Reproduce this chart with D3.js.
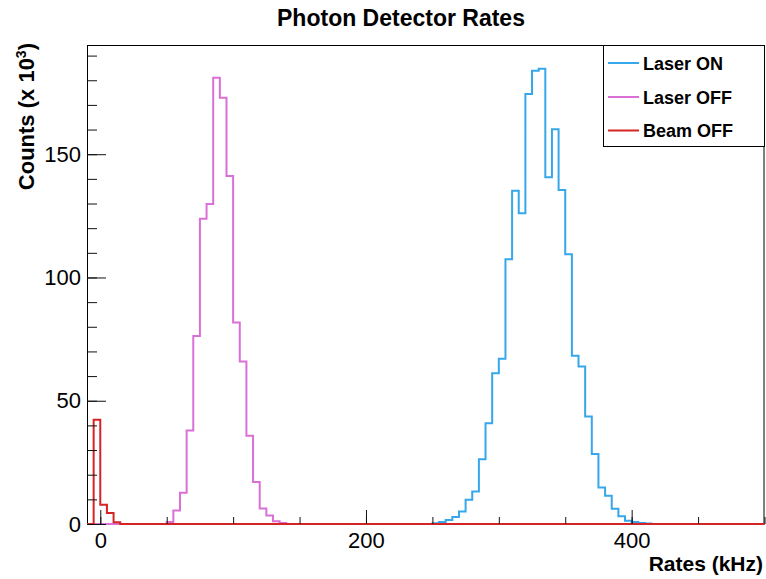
<!DOCTYPE html>
<html>
<head>
<meta charset="utf-8">
<script src="https://cdn.jsdelivr.net/npm/d3@7"></script>
<style>
  body { margin: 0; background: #fff; }
  text { font-family: "Liberation Sans", Arial, Helvetica, sans-serif; }
</style>
</head>
<body>
<div id="chart"></div>
<script>
// histogram binning (kHz)
var binWidth = 5;
var xMin = -10, xMax = 500;

// counts in thousands, listed from the first non-empty bin
var laserOnStart = 250;
var laserOnCounts = [0.3, 0.8, 1.6, 2.8, 5.1, 9.8, 13.2, 26.3, 40.9, 61.2, 67.0,
  107.4, 135.2, 126.1, 174.4, 183.9, 184.7, 140.7, 160.1, 135.5, 109.4, 68.2,
  63.9, 43.6, 28.4, 14.8, 11.5, 6.2, 3.1, 1.3, 0.8, 0.4, 0.2];

var laserOffStart = 50;
var laserOffCounts = [0.8, 5.5, 12.7, 37.9, 76.3, 123.8, 129.8, 181.0, 172.9,
  141.2, 81.7, 65.9, 35.8, 17.0, 6.3, 3.4, 1.1, 0.4];

var beamOffStart = -5;
var beamOffCounts = [42.3, 7.8, 4.5, 0.7];

var seriesNames = ["Laser ON", "Laser OFF", "Beam OFF"];
var seriesColors = ["#36a7ea", "#da70d6", "#d42424"];

var xMajorTicks = [0, 200, 400];
var yMajorTicks = [0, 50, 100, 150];

var width = 766, height = 579;
var margin = { left: 87, right: 1.5, top: 45, bottom: 55 };

var svg = d3.select("#chart")
  .append("svg")
  .attr("width", width)
  .attr("height", height);

var x = d3.scaleLinear()
  .domain([xMin, xMax])
  .range([margin.left, width - margin.right]);

var y = d3.scaleLinear()
  .domain([0, 194.3])
  .range([height - margin.bottom, margin.top]);

var plotBottom = height - margin.bottom;

// frame first, histograms get drawn over it
svg.append("rect")
  .attr("x", margin.left + 0.5)
  .attr("y", margin.top + 0.5)
  .attr("width", width - margin.right - margin.left - 1)
  .attr("height", plotBottom - margin.top)
  .attr("fill", "none")
  .attr("stroke", "#000")
  .attr("stroke-width", 1);

// build full step path: zero outside the listed bins
function stepPoints(start, counts) {
  var pts = [];
  var nBins = Math.round((xMax - xMin) / binWidth);
  for (var i = 0; i < nBins; i++) {
    var lo = xMin + i * binWidth;
    var k = Math.round((lo - start) / binWidth);
    var v = (k >= 0 && k < counts.length) ? counts[k] : 0;
    pts.push([lo, v]);
  }
  pts.push([xMax, pts[pts.length - 1][1]]);
  return pts;
}

var line = d3.line()
  .x(function (d) { return x(d[0]); })
  .y(function (d) { return y(d[1]); })
  .curve(d3.curveStepAfter);

var allSeries = [
  stepPoints(laserOnStart, laserOnCounts),
  stepPoints(laserOffStart, laserOffCounts),
  stepPoints(beamOffStart, beamOffCounts)
];

svg.append("g")
  .selectAll("path")
  .data(allSeries)
  .enter()
  .append("path")
  .attr("d", line)
  .attr("fill", "none")
  .attr("stroke", function (d, i) { return seriesColors[i]; })
  .attr("stroke-width", 2);

// axes, ROOT style: ticks point into the frame
svg.append("g")
  .attr("transform", "translate(0," + plotBottom + ")")
  .call(d3.axisBottom(x).tickValues(d3.range(0, 501, 50)).tickSize(-7).tickFormat(""));

svg.append("g")
  .attr("transform", "translate(0," + plotBottom + ")")
  .call(d3.axisBottom(x).tickValues(xMajorTicks).tickSize(-14).tickPadding(8));

svg.append("g")
  .attr("transform", "translate(" + margin.left + ",0)")
  .call(d3.axisLeft(y).tickValues(d3.range(0, 191, 10)).tickSize(-10).tickFormat(""));

svg.append("g")
  .attr("transform", "translate(" + margin.left + ",0)")
  .call(d3.axisLeft(y).tickValues(yMajorTicks).tickSize(-19).tickPadding(6));

svg.selectAll(".domain").remove();
svg.selectAll(".tick line").attr("stroke", "#111").attr("stroke-width", 1);
svg.selectAll(".tick text")
  .attr("fill", "#000")
  .style("font-size", "22px")
  .style("font-family", "'Liberation Sans', Arial, sans-serif");

// title and axis titles
svg.append("text")
  .attr("x", 401)
  .attr("y", 26)
  .attr("text-anchor", "middle")
  .style("font-size", "23px")
  .style("font-weight", "bold")
  .text("Photon Detector Rates");

svg.append("text")
  .attr("x", 763)
  .attr("y", 571)
  .attr("text-anchor", "end")
  .style("font-size", "21px")
  .style("font-weight", "bold")
  .text("Rates (kHz)");

var yTitle = svg.append("text")
  .attr("transform", "translate(33.5,43) rotate(-90)")
  .attr("text-anchor", "end")
  .style("font-size", "22px")
  .style("font-weight", "bold");
yTitle.append("tspan").text("Counts (x 10");
yTitle.append("tspan").attr("dy", -8).style("font-size", "14px").text("3");
yTitle.append("tspan").attr("dy", 8).text(")");

// legend
var legend = svg.append("g");
legend.append("rect")
  .attr("x", 603.5)
  .attr("y", 45.5)
  .attr("width", 161)
  .attr("height", 101)
  .attr("fill", "#fff")
  .attr("stroke", "#000");

var rowY = [63, 97, 130.5];
var rows = legend.selectAll(".row")
  .data(seriesNames)
  .enter()
  .append("g")
  .attr("class", "row")
  .attr("transform", function (d, i) { return "translate(0," + rowY[i] + ")"; });

rows.append("line")
  .attr("x1", 608).attr("x2", 639)
  .attr("y1", 0).attr("y2", 0)
  .attr("stroke", function (d, i) { return seriesColors[i]; })
  .attr("stroke-width", 2);

rows.append("text")
  .attr("x", 643)
  .attr("y", 6.5)
  .style("font-size", "18px")
  .style("font-weight", "bold")
  .text(function (d) { return d; });
</script>
</body>
</html>
